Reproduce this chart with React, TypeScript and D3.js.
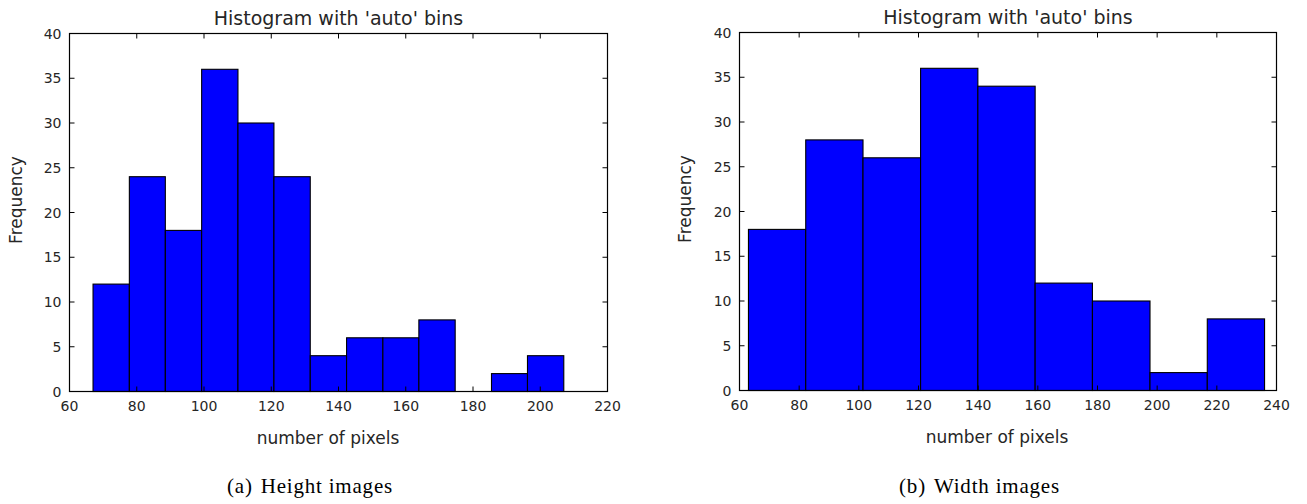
import React from "react";
import * as d3 from "d3";

const titleText = "Histogram with 'auto' bins";
const xLabelText = "number of pixels";
const yLabelText = "Frequency";

const heightEdges = [67, 77.8, 88.5, 99.3, 110.1, 120.8, 131.6, 142.4, 153.2, 163.9, 174.7, 185.5, 196.2, 207];
const heightCounts = [12, 24, 18, 36, 30, 24, 4, 6, 6, 8, 0, 2, 4];
const heightXTicks = [60, 80, 100, 120, 140, 160, 180, 200, 220];

const widthEdges = [63, 82.2, 101.4, 120.7, 139.9, 159.1, 178.3, 197.6, 216.8, 236];
const widthCounts = [18, 28, 26, 36, 34, 12, 10, 2, 8];
const widthXTicks = [60, 80, 100, 120, 140, 160, 180, 200, 220, 240];

const yTicks = [0, 5, 10, 15, 20, 25, 30, 35, 40];

const captionTags = ["(a)", "(b)"];
const captionTexts = ["Height images", "Width images"];

const SANS = "'DejaVu Sans', sans-serif";
const SERIF = "'Liberation Serif', serif";
const TXT = "#262626";

type PanelProps = {
  x0: number; x1: number; y0: number; y1: number;
  edges: number[]; counts: number[]; xTicks: number[];
  yLabelX: number; yLabelCy: number; xLabelCx: number; tag: string; caption: string; captionCx: number;
};

function Panel(p: PanelProps) {
  const x = d3.scaleLinear().domain([p.xTicks[0], p.xTicks[p.xTicks.length - 1]]).range([p.x0, p.x1]);
  const y = d3.scaleLinear().domain([0, 40]).range([p.y1, p.y0]);
  const bins = p.counts.map((c, i) => ({ a: p.edges[i], b: p.edges[i + 1], c }));
  const tl = 5;
  const cx = (p.x0 + p.x1) / 2;
  return (
    <g>
      {bins.filter(b => b.c > 0).map((b, i) => (
        <rect key={i} x={x(b.a)} y={y(b.c)} width={x(b.b) - x(b.a)} height={y(0) - y(b.c)}
          fill="#0000ff" stroke="#000" strokeWidth={1.1} />
      ))}
      {p.xTicks.map((t, i) => (
        <g key={"xt" + i}>
          <line x1={x(t)} x2={x(t)} y1={p.y1} y2={p.y1 - tl} stroke="#000" strokeWidth={1} />
          <line x1={x(t)} x2={x(t)} y1={p.y0} y2={p.y0 + tl} stroke="#000" strokeWidth={1} />
          <text x={x(t)} y={p.y1 + 19} textAnchor="middle" fontFamily={SANS} fontSize={14} fill={TXT}>{t}</text>
        </g>
      ))}
      {yTicks.map((t, i) => (
        <g key={"yt" + i}>
          <line x1={p.x0} x2={p.x0 + tl} y1={y(t)} y2={y(t)} stroke="#000" strokeWidth={1} />
          <line x1={p.x1} x2={p.x1 - tl} y1={y(t)} y2={y(t)} stroke="#000" strokeWidth={1} />
          <text x={p.x0 - 8} y={y(t)} dy="0.36em" textAnchor="end" fontFamily={SANS} fontSize={14} fill={TXT}>{t}</text>
        </g>
      ))}
      <rect x={p.x0} y={p.y0} width={p.x1 - p.x0} height={p.y1 - p.y0} fill="none" stroke="#000" strokeWidth={1.2} />
      <text x={cx} y={p.y0 - 9} textAnchor="middle" fontFamily={SANS} fontSize={19} fill={TXT}>{titleText}</text>
      <text x={p.xLabelCx} y={p.y1 + 52} textAnchor="middle" fontFamily={SANS} fontSize={17} fill={TXT}>{xLabelText}</text>
      <text transform={`translate(${p.yLabelX},${p.yLabelCy}) rotate(-90)`} textAnchor="middle" fontFamily={SANS} fontSize={17} fill={TXT}>{yLabelText}</text>
      <text x={p.captionCx} y={493} textAnchor="middle" fontFamily={SERIF} fontSize={21} fill="#000" letterSpacing={0.8}>
        <tspan>{p.tag}</tspan>
        <tspan dx={8}>{p.caption}</tspan>
      </text>
    </g>
  );
}

export default function App() {
  return (
    <svg width={1307} height={504} style={{ position: "absolute", left: 0, top: 0, background: "#fff" }}>
      <rect width={1307} height={504} fill="#fff" />
      <Panel x0={69.5} x1={607.5} y0={33.5} y1={391.5} edges={heightEdges} counts={heightCounts}
        xTicks={heightXTicks} yLabelX={22} yLabelCy={200} xLabelCx={328}
        tag={captionTags[0]} caption={captionTexts[0]} captionCx={310} />
      <Panel x0={739.5} x1={1276.5} y0={32.5} y1={390.5} edges={widthEdges} counts={widthCounts}
        xTicks={widthXTicks} yLabelX={691} yLabelCy={199} xLabelCx={997}
        tag={captionTags[1]} caption={captionTexts[1]} captionCx={979.5} />
    </svg>
  );
}
